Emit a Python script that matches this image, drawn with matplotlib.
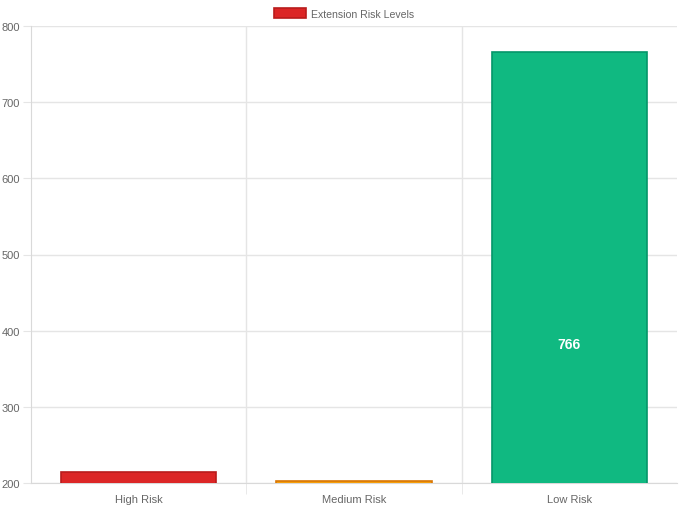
import matplotlib.pyplot as plt

categories = ['High Risk', 'Medium Risk', 'Low Risk']
counts = [214, 203, 766]
fill_colors = ['#dc2626', '#f59e0b', '#10b981']
edge_colors = ['#b91c1c', '#d97706', '#059669']
y_ticks = [200, 300, 400, 500, 600, 700, 800]

plt.rcParams['font.family'] = ['Liberation Sans', 'DejaVu Sans']

fig = plt.figure(figsize=(6.8, 5.1), dpi=100)
ax = fig.add_axes([31 / 680, 1 - 484 / 510, (677 - 31) / 680, (484 - 27) / 510])

x = range(len(categories))
bars = ax.bar(x, counts, width=0.72, bottom=0, color=fill_colors,
              edgecolor=edge_colors, linewidth=1.2, zorder=3,
              label='Extension Risk Levels')

ax.set_xlim(-0.5, len(categories) - 0.5)
ax.set_ylim(200, 800)
ax.set_yticks(y_ticks)
ax.set_xticks([0.5, 1.5], minor=True)
ax.set_xticks(list(x))
ax.set_xticklabels(categories)

ax.grid(True, axis='y', color='#e5e5e5', linewidth=1, zorder=0)
ax.grid(True, axis='x', which='minor', color='#e5e5e5', linewidth=1, zorder=0)
for s in ['top', 'right']:
    ax.spines[s].set_visible(False)
for s in ['left', 'bottom']:
    ax.spines[s].set_color('#d9d9d9')
ax.tick_params(axis='x', which='major', length=0, pad=8, labelsize=8, colors='#666666')
ax.tick_params(axis='x', which='minor', length=8, color='#e5e5e5')
ax.tick_params(axis='y', length=6, color='#e5e5e5', labelsize=8, colors='#666666', pad=2)

# value label centred on the full bar (bar starts at 0)
ax.text(2, counts[2] / 2, str(counts[2]), ha='center', va='center',
        color='white', fontsize=10, fontweight='bold', zorder=4)

ax.legend(loc='lower center', bbox_to_anchor=(0.484, 1.0), frameon=False,
          fontsize=7.6, labelcolor='#666666', handlelength=3.1, handleheight=1.0,
          handletextpad=0.4, borderaxespad=0.3)

fig.savefig('out.png', dpi=100)
